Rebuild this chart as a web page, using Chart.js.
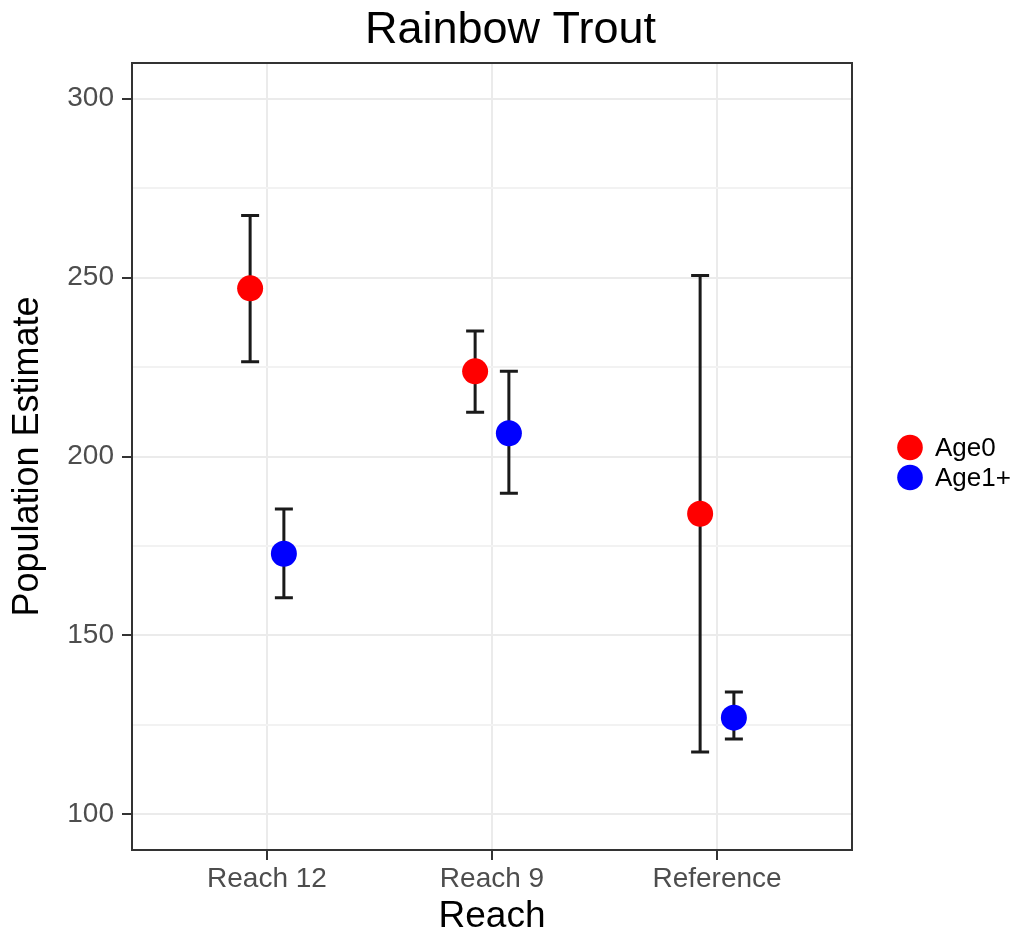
<!DOCTYPE html>
<html>
<head>
<meta charset="utf-8">
<title>Rainbow Trout</title>
<script src="https://cdn.jsdelivr.net/npm/chart.js@4.4.1/dist/chart.umd.min.js"></script>
<style>
  html, body { margin: 0; padding: 0; background: #ffffff; }
  canvas { display: block; }
</style>
</head>
<body>
<canvas id="chart" width="1021" height="933"></canvas>
<script>
// Population estimates per reach, with lower / upper confidence limits
const reaches = ['Reach 12', 'Reach 9', 'Reference'];

const age0Est  = [247.0, 223.8, 184.0];
const age0Low  = [226.5, 212.4, 117.4];
const age0High = [267.4, 235.1, 250.6];

const age1Est  = [172.8, 206.5, 127.0];
const age1Low  = [160.5, 189.7, 121.0];
const age1High = [185.3, 223.8, 134.2];

const yTickValues = [100, 125, 150, 175, 200, 225, 250, 275, 300];
const yLabelStep = 50;

// horizontal dodge of the two groups around each category
const DODGE = 0.075;
const FONT = "'Liberation Sans', Arial, Helvetica, sans-serif";
const LEGEND_WIDTH = 169;

function points(est, shift) {
  return est.map((v, i) => ({ x: i + 1 + shift, y: v }));
}

// vertical error bars with caps, drawn under the points
const errorBars = {
  id: 'errorBars',
  beforeDatasetsDraw(chart) {
    const { ctx } = chart;
    const yScale = chart.scales.y;
    ctx.save();
    ctx.strokeStyle = '#1a1a1a';
    ctx.lineWidth = 3;
    ctx.lineCap = 'butt';
    chart.data.datasets.forEach((ds, di) => {
      const meta = chart.getDatasetMeta(di);
      meta.data.forEach((pt, i) => {
        const x = pt.x;
        const yLo = yScale.getPixelForValue(ds.errLow[i]);
        const yHi = yScale.getPixelForValue(ds.errHigh[i]);
        const half = 9;
        ctx.beginPath();
        ctx.moveTo(x, yLo); ctx.lineTo(x, yHi);
        ctx.moveTo(x - half, yLo); ctx.lineTo(x + half, yLo);
        ctx.moveTo(x - half, yHi); ctx.lineTo(x + half, yHi);
        ctx.stroke();
      });
    });
    ctx.restore();
  }
};

// full frame around the plotting panel
const panelBorder = {
  id: 'panelBorder',
  afterDatasetsDraw(chart) {
    const { ctx, chartArea: a } = chart;
    ctx.save();
    ctx.strokeStyle = '#333333';
    ctx.lineWidth = 2;
    ctx.strokeRect(a.left, a.top, a.right - a.left, a.bottom - a.top);
    ctx.restore();
  }
};

// key to the right of the panel, one row per dataset
const sideLegend = {
  id: 'sideLegend',
  afterDraw(chart) {
    const { ctx, chartArea: a } = chart;
    const sets = chart.data.datasets;
    const rowGap = 30;
    const cx = a.right + 58;
    const top = (a.top + a.bottom) / 2 - ((sets.length - 1) * rowGap) / 2 + 6;
    ctx.save();
    ctx.font = '26px ' + FONT;
    ctx.textBaseline = 'middle';
    ctx.textAlign = 'left';
    sets.forEach((ds, i) => {
      const cy = top + i * rowGap;
      ctx.beginPath();
      ctx.arc(cx, cy, 12.8, 0, Math.PI * 2);
      ctx.fillStyle = ds.backgroundColor;
      ctx.fill();
      ctx.fillStyle = '#000000';
      ctx.fillText(ds.label, cx + 25, cy + 1);
    });
    ctx.restore();
  }
};

new Chart(document.getElementById('chart'), {
  type: 'scatter',
  data: {
    datasets: [
      {
        label: 'Age0',
        data: points(age0Est, -DODGE),
        errLow: age0Low,
        errHigh: age0High,
        backgroundColor: '#ff0000',
        borderWidth: 0,
        pointRadius: 13,
        pointHoverRadius: 13,
        pointStyle: 'circle'
      },
      {
        label: 'Age1+',
        data: points(age1Est, DODGE),
        errLow: age1Low,
        errHigh: age1High,
        backgroundColor: '#0000ff',
        borderWidth: 0,
        pointRadius: 13,
        pointHoverRadius: 13,
        pointStyle: 'circle'
      }
    ]
  },
  options: {
    responsive: false,
    animation: false,
    layout: { padding: 0 },
    plugins: {
      title: {
        display: true,
        text: 'Rainbow Trout',
        color: '#000000',
        font: { family: FONT, size: 45, weight: 'normal', lineHeight: 1.2 },
        padding: { top: 4, bottom: 5 },
        fullSize: true
      },
      legend: { display: false },
      tooltip: { enabled: false }
    },
    scales: {
      x: {
        type: 'linear',
        min: 0.4,
        max: 3.6,
        afterBuildTicks(axis) {
          axis.ticks = reaches.map((_, i) => ({ value: i + 1 }));
        },
        afterFit(axis) { axis.height = 83; },
        ticks: {
          color: '#4d4d4d',
          font: { family: FONT, size: 28 },
          padding: 2,
          maxRotation: 0,
          autoSkip: false,
          callback: (v) => reaches[v - 1]
        },
        grid: {
          color: '#ebebeb',
          lineWidth: 2,
          tickColor: '#333333',
          tickWidth: 2,
          tickLength: 10
        },
        border: { display: false },
        title: {
          display: true,
          text: 'Reach',
          color: '#000000',
          font: { family: FONT, size: 37, lineHeight: 1.0 },
          padding: { top: 0, bottom: -2 }
        }
      },
      y: {
        type: 'linear',
        min: 90,
        max: 310,
        afterBuildTicks(axis) {
          axis.ticks = yTickValues.map(v => ({ value: v }));
        },
        afterFit(axis) { axis.width = 132; },
        ticks: {
          color: '#4d4d4d',
          font: { family: FONT, size: 28 },
          padding: 8,
          autoSkip: false,
          callback: (v) => (v % yLabelStep === 0 ? String(v) : '')
        },
        grid: {
          color: (c) => (c.tick && c.tick.value % yLabelStep === 0 ? '#ebebeb' : '#f2f2f2'),
          lineWidth: 2,
          tickColor: (c) => (c.tick && c.tick.value % yLabelStep === 0 ? '#333333' : 'rgba(0,0,0,0)'),
          tickWidth: 2,
          tickLength: 10
        },
        border: { display: false },
        title: {
          display: true,
          text: 'Population Estimate',
          color: '#000000',
          font: { family: FONT, size: 36, lineHeight: 1.0 },
          padding: { top: 10, bottom: 0 }
        }
      },
      // empty right-hand axis that reserves the strip used by the key
      keyStrip: {
        type: 'linear',
        position: 'right',
        axis: 'y',
        min: 90,
        max: 310,
        afterFit(axis) { axis.width = LEGEND_WIDTH; },
        ticks: { display: false },
        grid: { display: false, drawTicks: false },
        border: { display: false },
        title: { display: false }
      }
    }
  },
  plugins: [errorBars, panelBorder, sideLegend]
});
</script>
</body>
</html>
